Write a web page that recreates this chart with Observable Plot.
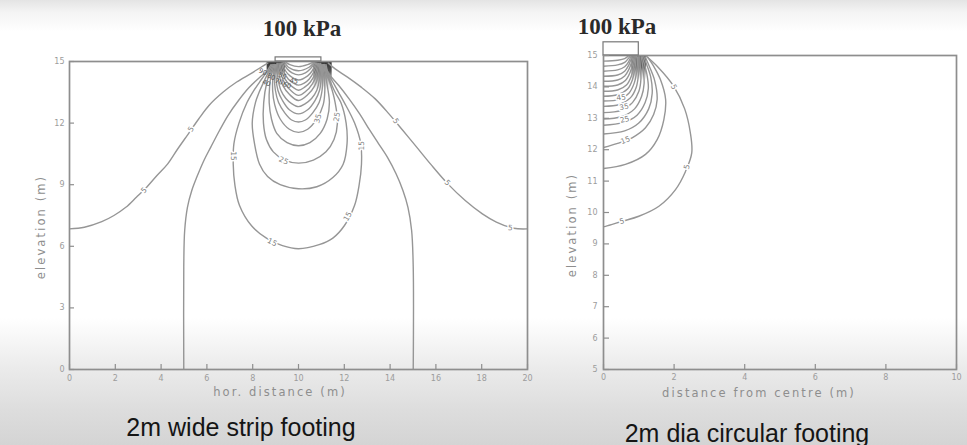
<!DOCTYPE html>
<html><head><meta charset="utf-8">
<script src="https://cdn.jsdelivr.net/npm/d3@7"></script>
<script src="https://cdn.jsdelivr.net/npm/@observablehq/plot@0.6"></script>
<style>
html,body{margin:0;padding:0;}
body{width:967px;height:445px;overflow:hidden;position:relative;
background:linear-gradient(to bottom,#e4e4e4 0px,#f4f4f4 12px,#ffffff 32px,#ffffff 318px,#ebebeb 368px,#dddddd 410px,#d4d4d4 445px);}
.abs{position:absolute;white-space:nowrap;transform:translate(-50%,-50%);}
.kpa{font-family:"Liberation Serif","DejaVu Serif",serif;font-weight:bold;font-size:23px;color:#2a2a2a;}
.title{font-family:"Liberation Sans",Arial,sans-serif;font-size:25px;color:#151515;}
.axl{font-family:"DejaVu Sans",sans-serif;font-size:11.5px;letter-spacing:2.1px;color:#8e8e8e;}
.rot{transform:translate(-50%,-50%) rotate(-90deg);}
#left,#right{position:absolute;top:0;}
#left{left:0px} #right{left:540px}
</style></head><body>
<div id="left"></div><div id="right"></div>
<div class="abs kpa" style="left:302px;top:29px">100 kPa</div>
<div class="abs kpa" style="left:617px;top:27px">100 kPa</div>
<div class="abs axl" style="left:280px;top:392px">hor. distance (m)</div>
<div class="abs axl rot" style="left:41px;top:227px">elevation (m)</div>
<div class="abs axl" style="left:759px;top:393px">distance from centre (m)</div>
<div class="abs axl rot" style="left:572px;top:225px">elevation (m)</div>
<div class="abs title" style="left:241px;top:427px">2m wide strip footing</div>
<div class="abs title" style="left:747px;top:433px">2m dia circular footing</div>
<script>
// ---------- strip footing (left) ----------
const stripXTicks = [0,2,4,6,8,10,12,14,16,18,20];
const stripYTicks = [0,3,6,9,12,15];
const stripFooting = [9, 11, 15, 15.2];
const stripBlockLeft = [8.63, 9.43, 14.35, 15];
const stripBlockRight = [10.67, 11.47, 13.6, 15];

const strip5L = [[0,6.85],[0.65,6.93],[1.41,7.2],[1.94,7.5],[2.46,7.9],[2.92,8.39],[3.37,8.88],[3.82,9.45],[4.28,10.0],[4.73,10.75],[5.19,11.48],[5.64,12.2],[6.09,12.86],[6.7,13.5],[7.3,14.0],[7.9,14.4],[8.36,14.72],[8.66,14.92]];
const strip5R = [[20,6.85],[19.4,6.88],[18.64,7.18],[18.03,7.58],[17.28,8.23],[16.52,9.04],[15.77,10.0],[15.16,10.83],[14.56,11.64],[13.95,12.45],[13.35,13.18],[12.74,13.75],[12.14,14.24],[11.6,14.64],[11.3,14.92]];
const strip10L = [[4.99,0],[4.99,5.0],[5.03,6.77],[5.15,7.9],[5.34,8.72],[5.56,9.37],[5.87,10.18],[6.17,10.83],[6.55,11.64],[6.92,12.37],[7.38,13.1],[7.83,13.72],[8.28,14.2],[8.7,14.6]];
const strip10R = [[15.01,0],[15.01,5.0],[14.94,6.77],[14.78,7.9],[14.56,8.72],[14.26,9.53],[13.88,10.34],[13.5,10.99],[13.12,11.64],[12.67,12.45],[12.21,13.18],[11.76,13.83],[11.38,14.32],[11.2,14.65]];
const strip15 = [[8.8,14.85],[8.55,14.4],[8.3,14.0],[8.0,13.5],[7.75,13.0],[7.4,12.0],[7.18,11.0],[7.15,10.0],[7.22,9.0],[7.42,8.0],[7.95,7.0],[8.6,6.4],[9.3,6.03],[10.0,5.88],[10.9,6.08],[11.5,6.4],[12.0,7.0],[12.45,8.0],[12.65,9.0],[12.75,10.0],[12.72,11.0],[12.45,12.0],[12.0,13.0],[11.75,13.5],[11.5,14.0],[11.3,14.4],[11.2,14.85]];
const strip20 = [[8.85,14.85],[8.65,14.4],[8.48,14.0],[8.28,13.5],[8.12,13.0],[7.98,12.0],[8.08,11.0],[8.3,10.0],[8.65,9.4],[9.2,9.0],[10.0,8.8],[10.8,8.9],[11.5,9.35],[11.95,10.0],[12.12,11.0],[12.08,12.0],[11.85,13.0],[11.6,13.5],[11.4,14.0],[11.25,14.4],[11.15,14.85]];
const strip25 = [[8.9,14.85],[8.74,14.4],[8.62,14.0],[8.48,13.0],[8.47,12.0],[8.6,11.2],[8.9,10.6],[9.4,10.2],[10.0,10.05],[10.65,10.2],[11.2,10.6],[11.55,11.2],[11.7,12.0],[11.6,13.0],[11.36,14.0],[11.22,14.4],[11.12,14.85]];
const strip30 = [[8.94,14.85],[8.82,14.4],[8.74,13.8],[8.72,13.0],[8.82,12.2],[9.05,11.5],[9.5,11.05],[10.0,10.9],[10.5,11.05],[10.95,11.5],[11.25,12.2],[11.35,13.0],[11.26,13.8],[11.17,14.4],[11.09,14.85]];
const strip35 = [[8.97,14.85],[8.89,14.3],[8.87,13.6],[8.96,12.9],[9.2,12.2],[9.6,11.7],[10.0,11.55],[10.4,11.7],[10.8,12.2],[11.08,12.9],[11.15,13.6],[11.12,14.3],[11.06,14.85]];
const strip40 = [[9.0,14.85],[8.95,14.2],[8.99,13.6],[9.13,13.0],[9.4,12.5],[9.7,12.15],[10.0,12.05],[10.3,12.15],[10.62,12.5],[10.9,13.0],[11.03,13.6],[11.06,14.2],[11.03,14.85]];
const strip45 = [[9.03,14.85],[9.02,14.2],[9.1,13.6],[9.3,13.1],[9.6,12.65],[10.0,12.45],[10.4,12.65],[10.72,13.1],[10.92,13.6],[10.99,14.2],[11.0,14.85]];
const strip50 = [[9.06,14.9],[9.1,14.2],[9.23,13.6],[9.45,13.2],[9.7,12.95],[10.0,12.8],[10.3,12.95],[10.57,13.2],[10.8,13.6],[10.92,14.2],[10.97,14.9]];
const strip55 = [[9.1,14.9],[9.16,14.3],[9.33,13.8],[9.6,13.4],[10.0,13.1],[10.42,13.4],[10.7,13.8],[10.86,14.3],[10.93,14.9]];
const strip60 = [[9.15,14.9],[9.23,14.4],[9.42,13.9],[9.7,13.55],[10.0,13.35],[10.32,13.55],[10.6,13.9],[10.8,14.4],[10.88,14.9]];
const strip65 = [[9.2,14.9],[9.3,14.4],[9.5,14.0],[9.75,13.75],[10.0,13.6],[10.27,13.75],[10.52,14.0],[10.72,14.4],[10.84,14.9]];
const strip70 = [[9.25,14.92],[9.36,14.5],[9.55,14.15],[9.78,13.95],[10.0,13.85],[10.25,13.95],[10.47,14.15],[10.67,14.5],[10.8,14.92]];
const strip75 = [[9.3,14.93],[9.43,14.55],[9.63,14.3],[10.0,14.1],[10.4,14.3],[10.6,14.55],[10.76,14.93]];
const strip80 = [[9.35,14.94],[9.5,14.65],[9.72,14.45],[10.0,14.35],[10.3,14.45],[10.52,14.65],[10.72,14.94]];
const strip85 = [[9.4,14.95],[9.56,14.72],[10.0,14.55],[10.46,14.72],[10.68,14.95]];
const strip90 = [[9.45,14.96],[9.62,14.85],[10.0,14.75],[10.4,14.85],[10.62,14.96]];

// [x, y, text, angle]
const stripLabels = [[3.25,8.72,"5",-45],[5.3,11.7,"5",-58],[14.25,12.1,"5",55],[16.5,9.1,"5",45],[19.25,6.9,"5",5],
  [7.16,10.4,"15",90],[8.85,6.2,"15",25],[12.15,7.45,"15",-60],[12.74,10.9,"15",-90],
  [9.35,10.17,"25",22],[10.85,12.22,"35",-75],[11.68,12.3,"25",-80]];
const stripScribbles = [[8.45,14.5,"90",25],[8.8,14.25,"80",25],[9.15,14.02,"70",20],[9.5,13.85,"60",15],[8.6,13.95,"40",25],[9.8,14.05,"45",10],[9.3,14.3,"55",20]];

// ---------- circular footing (right) ----------
const circXTicks = [0,2,4,6,8,10];
const circYTicks = [5,6,7,8,9,10,11,12,13,14,15];
const circFooting = [0, 1, 15, 15.42];
const circBlock = [0.8, 1.22, 14.2, 15];

const circ5 = [[1.22,14.97],[1.52,14.66],[1.99,14.02],[2.3,13.3],[2.46,12.54],[2.5,11.9],[2.32,11.3],[2.04,10.73],[1.57,10.2],[1.0,9.88],[0.53,9.72],[0.06,9.56],[0,9.55]];
const circ10 = [[0,11.4],[0.62,11.53],[1.19,11.85],[1.52,12.32],[1.71,12.96],[1.76,13.6],[1.61,14.24],[1.42,14.66],[1.25,14.95]];
const circ15 = [[0,12.07],[0.4,12.2],[0.81,12.38],[1.19,12.7],[1.42,13.12],[1.52,13.6],[1.45,14.2],[1.3,14.65],[1.18,14.96]];
const circ20 = [[0,12.5],[0.6,12.6],[1.0,12.85],[1.28,13.3],[1.38,13.8],[1.34,14.3],[1.22,14.72],[1.14,14.96]];
const circ25 = [[0,12.78],[0.55,12.86],[0.95,13.1],[1.18,13.5],[1.27,13.95],[1.23,14.4],[1.14,14.8],[1.1,14.96]];
const circ30 = [[0,12.98],[0.5,13.05],[0.88,13.3],[1.08,13.7],[1.15,14.1],[1.13,14.5],[1.07,14.96]];
const circ35 = [[0,13.18],[0.5,13.25],[0.82,13.5],[1.0,13.85],[1.06,14.25],[1.04,14.65],[1.03,14.96]];
const circ40 = [[0,13.38],[0.45,13.44],[0.76,13.65],[0.93,14.0],[0.99,14.4],[1.0,14.96]];
const circ45 = [[0,13.55],[0.45,13.6],[0.72,13.8],[0.87,14.12],[0.94,14.5],[0.97,14.96]];
const circ50 = [[0,13.7],[0.4,13.75],[0.68,13.93],[0.82,14.23],[0.89,14.6],[0.93,14.97]];
const circ55 = [[0,13.86],[0.4,13.9],[0.65,14.06],[0.79,14.35],[0.86,14.7],[0.9,14.97]];
const circ60 = [[0,14.02],[0.4,14.06],[0.62,14.2],[0.75,14.45],[0.83,14.75],[0.87,14.97]];
const circ65 = [[0,14.18],[0.4,14.22],[0.6,14.35],[0.72,14.56],[0.8,14.8],[0.84,14.97]];
const circ70 = [[0,14.34],[0.4,14.38],[0.6,14.5],[0.71,14.68],[0.78,14.88],[0.81,14.98]];
const circ75 = [[0,14.5],[0.4,14.54],[0.6,14.64],[0.71,14.8],[0.78,14.98]];
const circ80 = [[0,14.66],[0.4,14.7],[0.6,14.78],[0.7,14.9],[0.75,14.98]];
const circ85 = [[0,14.82],[0.4,14.85],[0.6,14.9],[0.7,14.98]];

const circLabels = [[1.99,14.0,"5",62],[2.36,11.45,"5",-78],[0.52,9.72,"5",-15],[0.62,12.3,"15",-20],[0.6,12.96,"25",-15],[0.58,13.36,"35",-10],[0.5,13.66,"45",-8]];

// ---------- helpers ----------
const toRows = (paths) => paths.flatMap((pts, id) => pts.map(([x, y]) => ({id, x, y})));
const lineColor = "#969696";
const axisColor = "#9c9c9c";

function addGrad(svg, id, stops) {
  let defs = d3.select(svg).select("defs");
  if (defs.empty()) defs = d3.select(svg).insert("defs", ":first-child");
  const g = defs.append("linearGradient").attr("id", id)
    .attr("x1", 0).attr("y1", 0).attr("x2", 0).attr("y2", 1);
  stops.forEach(([o, c, a]) => g.append("stop").attr("offset", o).attr("stop-color", c).attr("stop-opacity", a));
}
const rectOf = (b, opts) => Plot.rect([b], {x1: d => d[0], x2: d => d[1], y1: d => d[2], y2: d => d[3], ...opts});
const labelMark = (data, opts) => Plot.text(data, {x: d => d[0], y: d => d[1], text: d => d[2], rotate: d => d[3], ...opts});

// ---------- left plot ----------
const LW = 540, LH = 445, LML = 69, LMR = 13, LMT = 61, LMB = 76;
const stripRows = toRows([strip5L, strip5R, strip10L, strip10R, strip15, strip20, strip25, strip30, strip35, strip40, strip45,
  strip50, strip55, strip60, strip65, strip70, strip75, strip80, strip85, strip90]);

const left = Plot.plot({
  width: LW, height: LH,
  marginLeft: LML, marginRight: LMR, marginTop: LMT, marginBottom: LMB,
  style: {background: "transparent", fontFamily: "DejaVu Sans, sans-serif", overflow: "visible"},
  x: {domain: [0, 20]},
  y: {domain: [0, 15]},
  marks: [
    rectOf(stripBlockLeft, {fill: "url(#gStripL)"}),
    rectOf(stripBlockRight, {fill: "url(#gStripR)"}),
    Plot.line(stripRows, {x: "x", y: "y", z: "id", curve: "catmull-rom", stroke: lineColor, strokeWidth: 1.4, clip: true}),
    labelMark(stripLabels, {fontSize: 7.5, fill: "#808080", stroke: "white", strokeWidth: 3, paintOrder: "stroke"}),
    labelMark(stripScribbles, {fontSize: 6.5, fill: "#555"}),
    Plot.frame({stroke: "#8e8e8e", strokeWidth: 1.7}),
    rectOf(stripFooting, {fill: "none", stroke: "#777", strokeWidth: 1.2}),
    Plot.tickX(stripXTicks, {x: d => d, insetTop: (LH - LMT - LMB) - 5, stroke: "#8e8e8e", strokeWidth: 1.2}),
    Plot.tickY(stripYTicks, {y: d => d, insetRight: (LW - LML - LMR) - 5, stroke: "#8e8e8e", strokeWidth: 1.2}),
    Plot.axisX({ticks: stripXTicks, tickSize: 0, tickPadding: 6, label: null, fontSize: 8, color: axisColor}),
    Plot.axisY({ticks: stripYTicks, tickSize: 0, tickPadding: 5, label: null, fontSize: 8, color: axisColor})
  ]
});
addGrad(left, "gStripL", [[0, "#2e2e2e", 1], [0.7, "#3e3e3e", 0.9], [1, "#888", 0.25]]);
addGrad(left, "gStripR", [[0, "#2e2e2e", 1], [0.35, "#3e3e3e", 0.9], [0.65, "#6e6e6e", 0.5], [1, "#aaa", 0]]);
document.getElementById("left").appendChild(left);

// ---------- right plot ----------
const RW = 427, RH = 445, RML = 63, RMR = 11, RMT = 55, RMB = 76;
const circRows = toRows([circ5, circ10, circ15, circ20, circ25, circ30, circ35, circ40, circ45, circ50, circ55, circ60,
  circ65, circ70, circ75, circ80, circ85]);

const right = Plot.plot({
  width: RW, height: RH,
  marginLeft: RML, marginRight: RMR, marginTop: RMT, marginBottom: RMB,
  style: {background: "transparent", fontFamily: "DejaVu Sans, sans-serif", overflow: "visible"},
  x: {domain: [0, 10]},
  y: {domain: [5, 15]},
  marks: [
    rectOf(circBlock, {fill: "url(#gCirc)"}),
    Plot.line(circRows, {x: "x", y: "y", z: "id", curve: "catmull-rom", stroke: lineColor, strokeWidth: 1.4, clip: true}),
    labelMark(circLabels, {fontSize: 7.5, fill: "#808080", stroke: "white", strokeWidth: 3, paintOrder: "stroke"}),
    Plot.frame({stroke: "#8e8e8e", strokeWidth: 1.7}),
    rectOf(circFooting, {fill: "none", stroke: "#777", strokeWidth: 1.2}),
    Plot.tickX(circXTicks, {x: d => d, insetTop: (RH - RMT - RMB) - 5, stroke: "#8e8e8e", strokeWidth: 1.2}),
    Plot.tickY(circYTicks, {y: d => d, insetRight: (RW - RML - RMR) - 6, stroke: "#8e8e8e", strokeWidth: 1.2}),
    Plot.axisX({ticks: circXTicks, tickSize: 0, tickPadding: 5, label: null, fontSize: 8, color: axisColor}),
    Plot.axisY({ticks: circYTicks, tickSize: 0, tickPadding: 6, label: null, fontSize: 8, color: axisColor})
  ]
});
addGrad(right, "gCirc", [[0, "#2e2e2e", 1], [0.5, "#444", 0.8], [1, "#999", 0]]);
document.getElementById("right").appendChild(right);
</script>
</body></html>
